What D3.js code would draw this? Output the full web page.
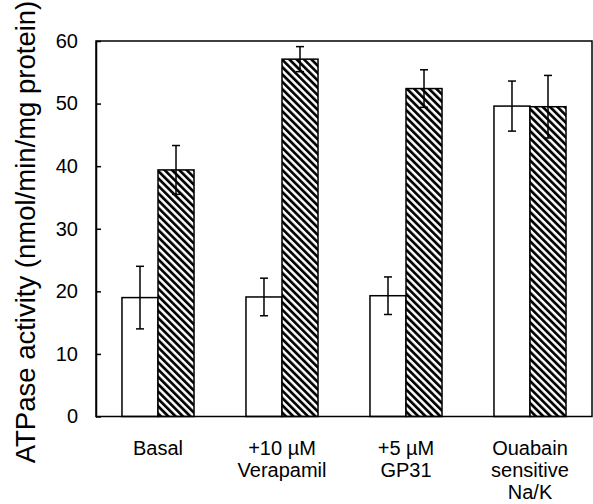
<!DOCTYPE html>
<html>
  <head>
    <script src="https://d3js.org/d3.v7.min.js"></script>
    <style>
      body { margin: 0; background: #fff; }
      text { font-family: "Liberation Sans", Arial, sans-serif; fill: #000; }
    </style>
  </head>
  <body>
    <script>
      const categories = [
        ['Basal'],
        ['+10 \u00b5M', 'Verapamil'],
        ['+5 \u00b5M', 'GP31'],
        ['Ouabain', 'sensitive', 'Na/K']
      ];
      const series = ['open', 'hatched'];
      const openValues = [19.0, 19.1, 19.3, 49.6];
      const openErrors = [5.0, 3.0, 3.0, 4.0];
      const hatchedValues = [39.4, 57.1, 52.4, 49.5];
      const hatchedErrors = [3.9, 2.0, 3.0, 5.0];
      const yTicks = [0, 10, 20, 30, 40, 50, 60];

      const width = 593;
      const height = 504;
      const m = { left: 96, right: 592, top: 41, bottom: 416.5 };

      const svg = d3.select('body')
        .append('svg')
        .attr('width', width)
        .attr('height', height);

      const defs = svg.append('defs');
      const pat = defs.append('pattern')
        .attr('id', 'hatch')
        .attr('patternUnits', 'userSpaceOnUse')
        .attr('width', 5.2)
        .attr('height', 5.2)
        .attr('patternTransform', 'rotate(-45)');
      pat.append('rect').attr('width', 5.2).attr('height', 5.2).attr('fill', '#fff');
      pat.append('line')
        .attr('x1', 1.4).attr('x2', 1.4)
        .attr('y1', 0).attr('y2', 5.2)
        .attr('stroke', '#000')
        .attr('stroke-width', 2.7);

      const keys = categories.map(d => d.join(' '));
      const x = d3.scaleBand().domain(keys).range([m.left, m.right]).paddingInner(0.419).paddingOuter(0.2095);
      const xs = d3.scaleBand().domain(series).range([0, x.bandwidth()]);
      const y = d3.scaleLinear().domain([0, 60]).range([m.bottom, m.top]);

      const rows = [];
      keys.forEach((k, i) => {
        rows.push({ key: k, s: 'open', v: openValues[i], e: openErrors[i] });
        rows.push({ key: k, s: 'hatched', v: hatchedValues[i], e: hatchedErrors[i] });
      });

      // bars
      svg.selectAll('.bar')
        .data(rows)
        .enter()
        .append('rect')
        .attr('class', 'bar')
        .attr('x', d => x(d.key) + xs(d.s))
        .attr('y', d => y(d.v))
        .attr('width', xs.bandwidth())
        .attr('height', d => y(0) - y(d.v))
        .attr('fill', d => d.s === 'open' ? '#fff' : 'url(#hatch)')
        .attr('stroke', '#000')
        .attr('stroke-width', 1.5);

      // error bars
      const eb = svg.selectAll('.err')
        .data(rows)
        .enter()
        .append('g')
        .attr('class', 'err')
        .attr('transform', d => `translate(${x(d.key) + xs(d.s) + xs.bandwidth() / 2},0)`)
        .attr('stroke', '#000')
        .attr('stroke-width', 1.5);
      eb.append('line')
        .attr('y1', d => y(d.v + d.e))
        .attr('y2', d => y(d.v - d.e));
      eb.append('line')
        .attr('x1', -4).attr('x2', 4)
        .attr('y1', d => y(d.v + d.e))
        .attr('y2', d => y(d.v + d.e));
      eb.append('line')
        .attr('x1', -4).attr('x2', 4)
        .attr('y1', d => y(d.v - d.e))
        .attr('y2', d => y(d.v - d.e));

      // frame
      svg.append('rect')
        .attr('x', m.left).attr('y', m.top)
        .attr('width', m.right - m.left).attr('height', m.bottom - m.top)
        .attr('fill', 'none')
        .attr('stroke', '#000')
        .attr('stroke-width', 1.5);

      // y axis
      const yAxis = svg.append('g')
        .attr('transform', `translate(${m.left},0)`)
        .call(d3.axisLeft(y).tickValues(yTicks).tickSizeInner(-5).tickSizeOuter(0).tickPadding(18));
      yAxis.select('.domain').attr('stroke-width', 1.5);
      yAxis.selectAll('.tick line').attr('stroke-width', 1.5);
      yAxis.selectAll('.tick text')
        .attr('font-size', 20)
        .attr('font-family', '"Liberation Sans", Arial, sans-serif');

      // category labels
      const lab = svg.selectAll('.cat')
        .data(categories)
        .enter()
        .append('text')
        .attr('class', 'cat')
        .attr('text-anchor', 'middle')
        .attr('font-size', 20);
      lab.selectAll('tspan')
        .data((d, i) => d.map(t => ({ t, k: keys[i] })))
        .enter()
        .append('tspan')
        .attr('x', d => x(d.k) + x.bandwidth() / 2)
        .attr('y', (d, j) => 455 + j * 22)
        .text(d => d.t);

      svg.append('text')
        .attr('transform', `translate(35,232) rotate(-90)`)
        .attr('text-anchor', 'middle')
        .attr('font-size', 27.5)
        .text('ATPase activity (nmol/min/mg protein)');
    </script>
  </body>
</html>
